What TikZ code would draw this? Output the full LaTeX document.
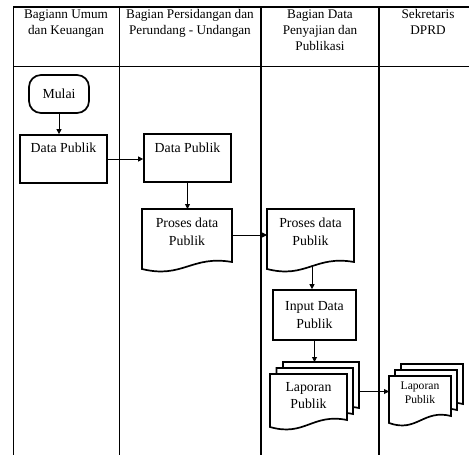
\documentclass[tikz,border=0pt]{standalone}
\usepackage{fontspec}
\setmainfont{Liberation Serif}
\usetikzlibrary{arrows.meta}

% document symbol: left, top, right, bottom (at the left end of the wavy edge)
\newcommand\docshape[4]{%
  \draw[shapeline, fill=white] (#1,#2) -- (#3,#2) -- (#3,#4-7)
    .. controls ({#3-0.45*(#3-#1)},#4-14) and ({#1+0.45*(#3-#1)},#4+10) .. (#1,#4) -- cycle;}

\begin{document}
\begin{tikzpicture}[x=1pt,y=-1pt,
  lane/.style={line width=0.9pt},
  lanebold/.style={line width=1.6pt},
  head/.style={font=\fontsize{13.2}{16}\selectfont, align=center, anchor=north, inner sep=0pt},
  shapeline/.style={line width=1.7pt, line join=miter},
  body/.style={font=\fontsize{13.8}{17.5}\selectfont, align=center, inner sep=0pt},
  small/.style={font=\fontsize{11.6}{14}\selectfont, align=center, inner sep=0pt},
  area/.style={draw=none, inner sep=0pt, outer sep=0pt, rectangle},
  procbox/.style={draw, shapeline, fill=white, inner sep=0pt},
  flow/.style={line width=0.9pt, -{Triangle[length=5pt,width=5pt]}},
]
\useasboundingbox (0,0) rectangle (469,455);

% swimlane grid
\draw[line width=1.2pt] (13,7) -- (469,7);
\draw[lane] (13,66) -- (469,66);
\draw[lane] (13,7) -- (13,455);
\draw[lane] (119,7) -- (119,455);
\draw[lanebold] (261,7) -- (261,455);
\draw[lanebold] (379,7) -- (379,455);

% lane headings
\node[head] (h1) at (66,9.5) {Bagiann Umum\\dan Keuangan};
\node[head] (h2) at (190,9.5) {Bagian Persidangan dan\\Perundang - Undangan};
\node[head] (h3) at (320,9.5) {Bagian Data\\Penyajian dan\\Publikasi};
\node[head] (h4) at (428,9.5) {Sekretaris\\DPRD};

% start
\node[procbox, rounded corners=12pt, minimum width=60pt, minimum height=38pt, body] (start) at (59,94) {Mulai};

% data boxes
\node[procbox, minimum width=87pt, minimum height=48pt] (dp1) at (63.5,159) {};
\node[body] (dp1t) at (63.5,148) {Data Publik};
\node[procbox, minimum width=87pt, minimum height=48pt] (dp2) at (187.5,158) {};
\node[body] (dp2t) at (187.5,148) {Data Publik};

% process documents
\docshape{142}{209}{232}{269}
\node[area, body, minimum width=90pt, minimum height=46pt] (pr1) at (187,232) {Proses data\\Publik};
\docshape{267}{209}{354}{269}
\node[area, body, minimum width=87pt, minimum height=46pt] (pr2) at (310.5,232) {Proses data\\Publik};
\coordinate (pr2b) at (312,267);

% input
\node[procbox, body, minimum width=83pt, minimum height=50pt] (in) at (314.5,315) {Input Data\\Publik};

% report stacks
\docshape{283}{362}{359}{415}
\docshape{276.5}{368}{353}{421}
\docshape{270}{374}{347}{427}
\node[area, minimum width=89pt, minimum height=59pt] (lp1) at (314.5,391.5) {};
\node[body] (lp1t) at (308.5,395.5) {Laporan\\Publik};

\docshape{401}{364}{463}{411}
\docshape{395}{370}{457}{417}
\docshape{389}{376}{451}{423}
\node[area, minimum width=74pt, minimum height=53pt] (lp2) at (426,390.5) {};
\node[small] (lp2t) at (420,393) {Laporan\\Publik};

% connectors
\draw[flow] (start.south) -- (start.south |- dp1.north);
\draw[flow] (dp1.east) -- (dp1.east -| dp2.west);
\draw[flow] (dp2.south) -- (dp2.south |- pr1.north);
\draw[flow] ([yshift=-3pt]pr1.east) -- ([yshift=-3pt]pr1.east -| pr2.west);
\draw[flow] (pr2b) -- (pr2b |- in.north);
\draw[flow] (in.south) -- (in.south |- lp1.north);
\draw[flow] (lp1.east) -- (lp1.east -| lp2.west);
\end{tikzpicture}
\end{document}
